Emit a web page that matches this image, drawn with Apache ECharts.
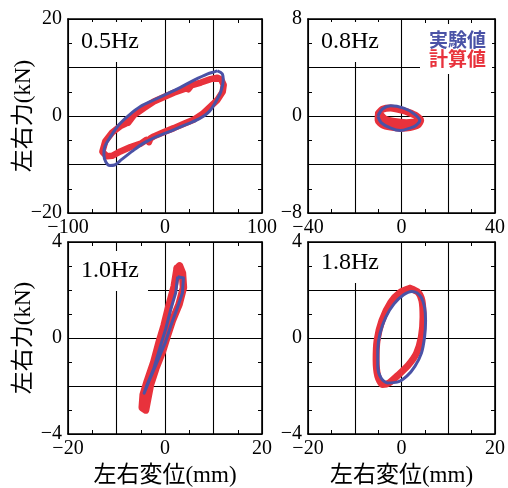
<!DOCTYPE html>
<html>
<head>
<meta charset="utf-8">
<script src="https://cdn.jsdelivr.net/npm/echarts@6/dist/echarts.min.js"></script>
<style>
  html, body { margin: 0; padding: 0; background: #fff; }
  #chart { width: 508px; height: 488px; }
</style>
</head>
<body>
<div id="chart"></div>
<script>
// Panel titles (excitation frequency)
const panelTitles = ['0.5Hz', '0.8Hz', '1.0Hz', '1.8Hz'];

// Axis ranges: [min, max, major interval]
const xRanges = [[-100, 100, 50], [-40, 40, 20], [-20, 20, 10], [-20, 20, 10]];
const yRanges = [[-20, 20, 10], [-8, 8, 4], [-4, 4, 2], [-4, 4, 2]];

// Tick values that carry a label
const xTickLabels = [[-100, 0, 100], [-40, 0, 40], [-20, 0, 20], [-20, 0, 20]];
const yTickLabels = [[-20, 0, 20], [-8, 0, 8], [-4, 0, 4], [-4, 0, 4]];

// Hysteresis loops: [displacement (mm), force (kN)]
const exp05 = [[54,9.3],[59,8.7],[60,7.4],[57.5,5.0],[52.5,3.0],[45.5,0.9],[35,-0.6],[21.5,-1.8],[6,-3.1],[-8,-4.2],[-22,-5.6],[-34,-7.3],[-45,-9.0],[-52,-10.1],[-57,-10.2],[-61,-9.5],[-63,-8.0],[-62,-6.3],[-56,-4.2],[-47.5,-1.8],[-37,0.2],[-25,2.0],[-11.5,3.3],[2.5,4.6],[16,5.9],[30,7.4],[44,8.7],[51,9.1],[54,9.3]];
const calc05 = [[-64.5,-7.3],[-61.5,-5.2],[-54.5,-3.4],[-46,-2.1],[-41,-1.6],[-39.5,-0.8],[-38,-1.4],[-32,0.2],[-22,1.6],[-11.5,3.0],[-1,3.9],[9,4.8],[21.5,5.7],[24,5.5],[27,6.3],[37,6.9],[47,7.6],[54,7.9],[58,7.5],[60.5,6.4],[59.5,5.0],[54,3.3],[47,2.0],[38.5,0.4],[30,-0.7],[19.5,-1.6],[9,-2.5],[-1,-3.3],[-11.5,-4.2],[-15,-4.6],[-16.5,-5.4],[-19,-4.9],[-25,-5.7],[-35.5,-6.4],[-46,-7.3],[-54.5,-8.2],[-60,-8.3],[-64,-7.5]];

const exp08 = [[-10.1,0],[-8,0.6],[-4.6,0.84],[0.9,0.65],[5,0.23],[7.8,-0.37],[6,-0.8],[3.6,-1.0],[-0.5,-1.2],[-4.6,-1.0],[-8.7,-0.54],[-10.1,0]];
const calc08 = [[-9.8,0.25],[-8.1,0.56],[-4.6,0.65],[-0.5,0.5],[3,0.3],[6.4,0],[8.2,-0.37],[7.1,-0.73],[3.6,-0.95],[-0.5,-1.0],[-4.6,-0.92],[-8.1,-0.73],[-10,-0.37],[-9.8,0.25],[-7,-0.25],[-3,-0.45],[2,-0.55],[6,-0.5]];

const exp10 = [[2.6,2.55],[3.8,2.5],[3.6,1.88],[2.55,1.26],[1.2,0.51],[0.1,-0.17],[-1.6,-0.99],[-3.3,-1.8],[-4.3,-2.3],[-4.5,-2.38],[-3.7,-1.95],[-2.3,-1.26],[-0.9,-0.31],[0.15,0.38],[1.2,1.2],[2.2,1.88],[2.6,2.55]];
const calc10 = [[2.5,2.9],[3.0,3.0],[3.6,2.7],[3.8,2.1],[2.9,1.4],[1.5,0.72],[0.5,0.1],[-0.55,-0.58],[-1.9,-1.27],[-3.0,-1.95],[-3.65,-2.63],[-4.0,-3.0],[-4.7,-2.9],[-4.5,-2.36],[-3.65,-1.8],[-2.3,-1.0],[-1.2,-0.17],[-0.2,0.51],[0.8,1.33],[1.9,2.15],[2.5,2.9]];

const exp18 = [[3.2,1.9],[4.25,1.69],[4.94,1.28],[5.15,0.73],[4.94,0.05],[4.25,-0.64],[2.86,-1.18],[1.14,-1.59],[-0.93,-1.84],[-3.0,-1.87],[-4.4,-1.66],[-5.08,-1.18],[-5.08,-0.5],[-4.6,0.18],[-3.36,0.87],[-1.6,1.42],[0.46,1.8],[2.2,1.94],[3.2,1.9]];
const calc18 = [[1.8,2.07],[3.56,1.9],[4.38,1.55],[4.6,0.87],[4.25,0.05],[3.2,-0.64],[1.5,-1.12],[-0.57,-1.52],[-2.64,-1.87],[-4.04,-1.94],[-5.08,-1.59],[-5.43,-0.91],[-5.22,-0.09],[-4.18,0.73],[-2.3,1.48],[-0.25,1.9],[1.8,2.07]];

const expLoops = [exp05, exp08, exp10, exp18];
const calcLoops = [calc05, calc08, calc10, calc18];

const EXP_NAME = '実験値';
const CALC_NAME = '計算値';
const BLUE = '#4a52a6';
const RED = '#e8323c';

const NUM_FONT = '"Liberation Serif", "DejaVu Serif", serif';
const CJK_FONT = '"Liberation Serif", "Noto Sans CJK JP", serif';

const grids = [
  { left: 68, top: 19, width: 194, height: 194 },
  { left: 308, top: 19, width: 193, height: 194 },
  { left: 68, top: 242, width: 194, height: 195 },
  { left: 308, top: 242, width: 193, height: 195 }
];

function fmt(labels) {
  return function (v) {
    return labels.indexOf(v) >= 0 ? String(v).replace('-', '\u2212') : '';
  };
}

const lineBlack = { color: '#000', width: 1.6 };
const xAxes = [];
const yAxes = [];
const series = [];
const titles = [];

const calcWidths = [6.5, 7, 7.5, 7];
const expSmooth = [0.3, 0.35, 0, 0.3];
const calcSmooth = [0, 0.2, 0, 0.25];

for (let i = 0; i < 4; i++) {
  const [xmin, xmax, xint] = xRanges[i];
  const [ymin, ymax, yint] = yRanges[i];
  const common = {
    gridIndex: i,
    axisLine: { show: true, onZero: false, lineStyle: lineBlack },
    axisTick: { show: true, inside: true, length: 4, lineStyle: { color: '#000', width: 1 } },
    minorTick: { show: true, splitNumber: 2, length: 4, lineStyle: { color: '#000', width: 1 } }
  };
  // bottom axis with labels and grid lines
  xAxes.push(Object.assign({}, common, {
    type: 'value', position: 'bottom', min: xmin, max: xmax, interval: xint,
    axisLabel: { formatter: fmt(xTickLabels[i]), color: '#000', fontFamily: NUM_FONT, fontSize: 20, margin: 5 },
    splitLine: { show: true, lineStyle: { color: '#000', width: 1.1 } },
    name: i >= 2 ? '左右変位(mm)' : '',
    nameLocation: 'middle', nameGap: 30, nameMoveOverlap: false,
    nameTextStyle: { color: '#000', fontFamily: CJK_FONT, fontSize: 23 }
  }));
  // top frame edge
  xAxes.push(Object.assign({}, common, {
    type: 'value', position: 'top', min: xmin, max: xmax, interval: xint,
    axisLabel: { show: false }, splitLine: { show: false }
  }));
  // left axis with labels and grid lines
  yAxes.push(Object.assign({}, common, {
    type: 'value', position: 'left', min: ymin, max: ymax, interval: yint,
    axisLabel: { formatter: fmt(yTickLabels[i]), color: '#000', fontFamily: NUM_FONT, fontSize: 20, margin: 6 },
    splitLine: { show: true, lineStyle: { color: '#000', width: 1.1 } },
    name: i % 2 === 0 ? '左右力(kN)' : '',
    nameLocation: 'middle', nameGap: 33, nameMoveOverlap: false,
    nameTextStyle: { color: '#000', fontFamily: CJK_FONT, fontSize: 23 }
  }));
  // right frame edge
  yAxes.push(Object.assign({}, common, {
    type: 'value', position: 'right', min: ymin, max: ymax, interval: yint,
    axisLabel: { show: false }, splitLine: { show: false }
  }));

  series.push({
    name: CALC_NAME, type: 'line', xAxisIndex: 2 * i, yAxisIndex: 2 * i,
    data: calcLoops[i], showSymbol: false, smooth: calcSmooth[i], z: 3,
    lineStyle: { color: RED, width: calcWidths[i], join: 'round', cap: 'round' },
    itemStyle: { color: RED }
  });
  series.push({
    name: EXP_NAME, type: 'line', xAxisIndex: 2 * i, yAxisIndex: 2 * i,
    data: expLoops[i], showSymbol: false, smooth: expSmooth[i], z: 4,
    lineStyle: { color: BLUE, width: 3, join: 'round' },
    itemStyle: { color: BLUE }
  });

  const g = grids[i];
  titles.push({
    text: panelTitles[i],
    left: g.left + 4,
    top: g.top + (i === 3 ? 1 : (i === 2 ? 9 : 3)),
    padding: [8, 9, 8, 9],
    backgroundColor: '#fff',
    textStyle: { color: '#000', fontFamily: NUM_FONT, fontSize: 24, fontWeight: 'normal' }
  });
}

const chart = echarts.init(document.getElementById('chart'), null, { renderer: 'canvas' });
chart.setOption({
  animation: false,
  backgroundColor: '#fff',
  title: titles,
  grid: grids,
  xAxis: xAxes,
  yAxis: yAxes,
  legend: {
    orient: 'vertical',
    left: 420, top: 24,
    padding: [6, 6, 6, 4],
    itemGap: 0, itemWidth: 0, itemHeight: 0,
    icon: 'circle',
    selectedMode: false,
    backgroundColor: '#fff',
    data: [
      { name: EXP_NAME, textStyle: { color: BLUE } },
      { name: CALC_NAME, textStyle: { color: RED } }
    ],
    textStyle: { fontFamily: '"Noto Sans CJK JP", sans-serif', fontSize: 19, fontWeight: 'bold', lineHeight: 17 }
  },
  series: series
});
</script>
</body>
</html>
